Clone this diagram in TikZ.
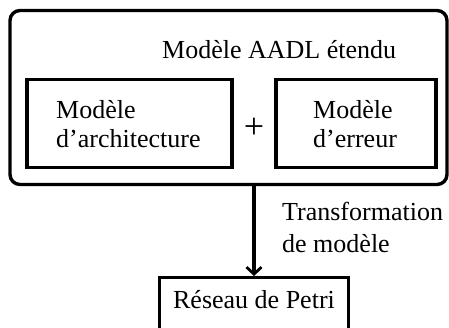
\documentclass[tikz,border=0pt]{standalone}
\usepackage{fontspec}
\setmainfont{Liberation Serif}
\usetikzlibrary{arrows.meta}
\begin{document}
\begin{tikzpicture}[x=1pt,y=-1pt,
  boxline/.style={draw=black,line width=3.4pt},
  txt/.style={font=\fontsize{26}{30}\selectfont,inner sep=0pt},
  innerbox/.style={boxline,inner sep=0pt}]
\useasboundingbox (0,0) rectangle (449,327);
% outer container
\node[boxline,rounded corners=10pt,minimum width=437pt,minimum height=174pt,inner sep=0pt] (outer) at (228.5,97.5) {};
\node[txt,anchor=base west] (title) at (162,58) {Modèle AADL étendu};
% inner boxes
\node[innerbox,minimum width=205pt,minimum height=88pt] (arch) at (129.5,123.5) {};
\node[txt,anchor=base west,align=left] (archtxt) at (56,118) {Modèle};
\node[txt,anchor=base west,align=left] (archtxt2) at (56,147) {d’architecture};
\node[innerbox,minimum width=160pt,minimum height=88pt] (err) at (356,123.5) {};
\node[txt,anchor=base west] (errtxt) at (313,118) {Modèle};
\node[txt,anchor=base west] (errtxt2) at (313,147) {d’erreur};
\node[font=\fontsize{36}{40}\selectfont,inner sep=0pt] (plus) at (254,128) {+};
% bottom box
\node[boxline,minimum width=189pt,minimum height=80pt,inner sep=0pt,anchor=north] (petri) at (254,276) {};
\node[txt,anchor=base] (petritxt) at (254,308) {Réseau de Petri};
% arrow
\draw[line width=3.2pt,-{Straight Barb[length=7pt,width=15pt,line width=2.8pt]}] (outer.south -| petri.north) -- (petri.north);
\node[txt,anchor=base west] (tr1) at (282,220) {Transformation};
\node[txt,anchor=base west] (tr2) at (282,252) {de modèle};
\end{tikzpicture}
\end{document}
